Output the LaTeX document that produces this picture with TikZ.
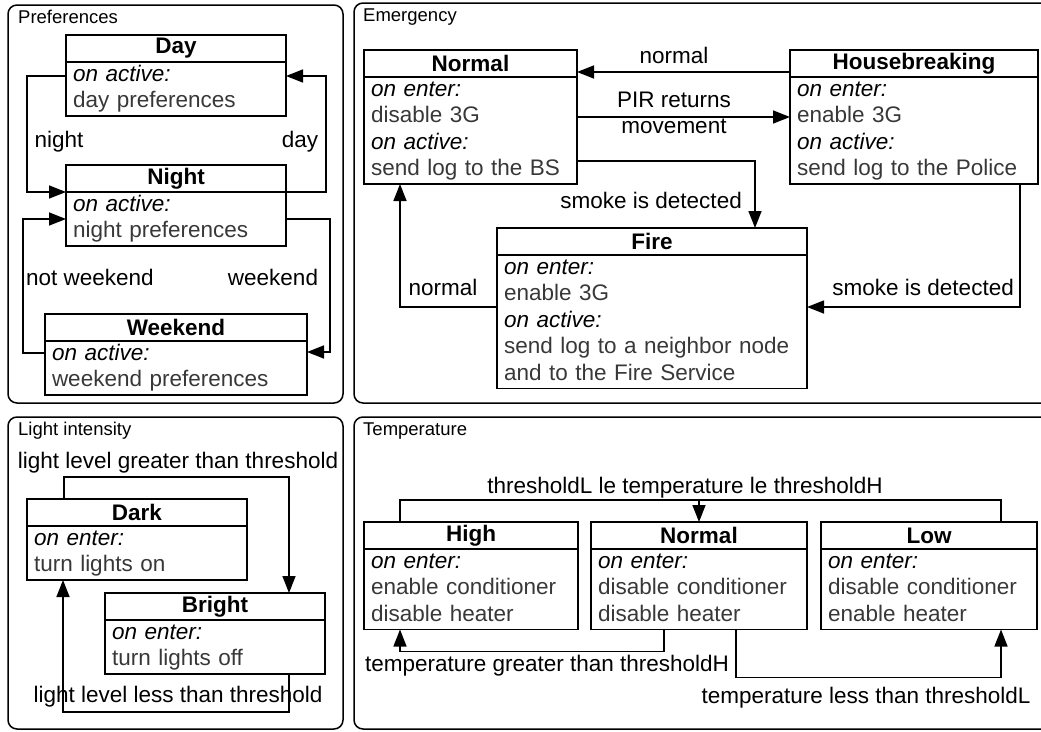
\documentclass[tikz,border=0pt]{standalone}
\usepackage{fontspec}
\setmainfont{Liberation Sans}
\usetikzlibrary{arrows.meta,positioning}
\newcommand{\trig}[1]{{\color{black}\itshape #1}}

\begin{document}
\begin{tikzpicture}[
    x=1pt, y=-1pt,
    frame/.style={draw, line width=1.5pt, rounded corners=9pt},
    frametitle/.style={anchor=base west, inner sep=0pt, font=\fontsize{18.5}{22}\selectfont},
    statehead/.style={draw, line width=1.8pt, outer sep=0pt, inner sep=0pt,
      minimum height=27pt, anchor=south, font=\fontsize{22.5}{26.5}\selectfont\bfseries},
    statebody/.style={draw, line width=1.8pt, outer sep=0pt, inner xsep=7pt, inner ysep=0.5pt,
      align=left, text=black!78, font=\fontsize{22.5}{26.5}\selectfont,
      execute at begin node=\strut, execute at end node=\strut},
    trans/.style={draw, line width=1.5pt, -{Triangle[length=17pt,width=13pt]}},
    guard/.style={anchor=base, inner sep=0pt, align=center, font=\fontsize{22.5}{26.5}\selectfont}
  ]
  \clip (0,0) rectangle (1041,731);

  % Rahmen
  \draw[frame] (8,5) rectangle (343,403);
  \draw[frame] (354,3) rectangle (1060,403);
  \draw[frame] (8,417) rectangle (343,729);
  \draw[frame] (354,417) rectangle (1060,729);
  \node[frametitle] (tpref) at (18,23) {Preferences};
  \node[frametitle] (temer) at (363,21) {Emergency};
  \node[frametitle] (tlight) at (18,435) {Light intensity};
  \node[frametitle] (ttemp) at (363,435) {Temperature};

  % Preferences
  \node[statehead, minimum width=220pt] (dayh) at (176,62) {Day};
  \node[statebody, text width=206pt, below=0pt of dayh] (dayb) {\trig{on active:}\\day preferences};
  \node[statehead, minimum width=220pt] (nighth) at (176,192) {Night};
  \node[statebody, text width=206pt, below=0pt of nighth] (nightb) {\trig{on active:}\\night preferences};
  \node[statehead, minimum width=262pt] (weekh) at (176,341) {Weekend};
  \node[statebody, text width=248pt, below=0pt of weekh] (weekb) {\trig{on active:}\\weekend preferences};

  \draw[trans] ([yshift=-14pt]dayb.north west) -- ++(-39,0) |- (nightb.north west);
  \draw[trans] (nighth.south east) -- ++(40,0) |- ([yshift=-14pt]dayb.north east);
  \draw[trans] ([yshift=-27pt]nightb.north east) -- ++(44,0) |- ([yshift=-11pt]weekb.north east);
  \draw[trans] ([yshift=-12pt]weekb.north west) -- ++(-22,0) |- ([yshift=-27pt]nightb.north west);
  \node[guard] (gnight) at (59,147) {night};
  \node[guard] (gday) at (300,147) {day};
  \node[guard] (gnotwe) at (90,285) {not weekend};
  \node[guard] (gwe) at (273,285) {weekend};

  % Emergency
  \node[statehead, minimum width=213pt] (normh) at (470.5,77) {Normal};
  \node[statebody, text width=199pt, below=0pt of normh] (normb)
    {\trig{on enter:}\\disable 3G\\\trig{on active:}\\send log to the BS};
  \node[statehead, minimum width=248pt] (hbh) at (914,77) {Housebreaking};
  \node[statebody, text width=234pt, below=0pt of hbh] (hbb)
    {\trig{on enter:}\\enable 3G\\\trig{on active:}\\send log to the Police};
  \node[statehead, minimum width=310pt] (fireh) at (652,255) {Fire};
  \node[statebody, text width=296pt, below=0pt of fireh] (fireb)
    {\trig{on enter:}\\enable 3G\\\trig{on active:}\\send log to a neighbor node\\and to the Fire Service};

  \draw[trans] ([yshift=5pt]hbh.south west) -- ([yshift=5pt]normh.south east);
  \draw[trans] ([yshift=-40pt]normb.north east) -- ([yshift=-40pt]hbb.north west);
  \draw[trans] ([yshift=-84pt]normb.north east) -| ([xshift=-52pt]fireh.north east);
  \draw[trans] ([yshift=-52pt]fireb.north west) -| ([xshift=36pt]normb.south west);
  \draw[trans] ([xshift=-18pt]hbb.south east) |- ([yshift=-52pt]fireb.north east);
  \node[guard] (gnorm1) at (674,63) {normal};
  \node[guard, anchor=center] (gpir) at (674,113) {PIR returns\\movement};
  \node[guard, anchor=base east] (gsmoke1) at (742,208) {smoke is detected};
  \node[guard] (gnorm2) at (443,295) {normal};
  \node[guard, anchor=base east] (gsmoke2) at (1014,295) {smoke is detected};

  % Light intensity
  \node[statehead, minimum width=220pt] (darkh) at (137,526) {Dark};
  \node[statebody, text width=206pt, below=0pt of darkh] (darkb) {\trig{on enter:}\\turn lights on};
  \node[statehead, minimum width=220pt] (brighth) at (215,620) {Bright};
  \node[statebody, text width=206pt, below=0pt of brighth] (brightb) {\trig{on enter:}\\turn lights off};

  \draw[trans] ([xshift=37pt]darkh.north west) -- ++(0,-22) -| ([xshift=-36pt]brighth.north east);
  \draw[trans] ([xshift=-36pt]brightb.south east) -- ++(0,38) -| ([xshift=36pt]darkb.south west);
  \node[guard] (ggreater) at (178,468) {light level greater than threshold};
  \node[guard] (gless) at (178,702) {light level less than threshold};

  % Temperature
  \node[statehead, minimum width=214pt] (highh) at (471,549) {High};
  \node[statebody, text width=200pt, below=0pt of highh] (highb)
    {\trig{on enter:}\\enable conditioner\\disable heater};
  \node[statehead, minimum width=216pt] (tnormh) at (699,549) {Normal};
  \node[statebody, text width=202pt, below=0pt of tnormh] (tnormb)
    {\trig{on enter:}\\disable conditioner\\disable heater};
  \node[statehead, minimum width=216pt] (lowh) at (929,549) {Low};
  \node[statebody, text width=202pt, below=0pt of lowh] (lowb)
    {\trig{on enter:}\\disable conditioner\\enable heater};

  \draw[line width=1.5pt] ([xshift=36pt]highh.north west) -- ++(0,-22) coordinate (tjoin)
    -| ([xshift=-36pt]lowh.north east);
  \draw[trans] (tjoin -| tnormh.north) -- (tnormh.north);
  \draw[trans] ([xshift=73pt]tnormb.south west) -- ++(0,22) -| ([xshift=36pt]highb.south west);
  \draw[trans] ([xshift=-71pt]tnormb.south east) -- ++(0,48) -| ([xshift=-36pt]lowb.south east);
  \node[guard] (gband) at (685,493) {thresholdL le temperature le thresholdH};
  \node[guard] (gtgreater) at (547,671) {temperature greater than thresholdH};
  \node[guard] (gtless) at (866,703) {temperature less than thresholdL};
\end{tikzpicture}
\end{document}
